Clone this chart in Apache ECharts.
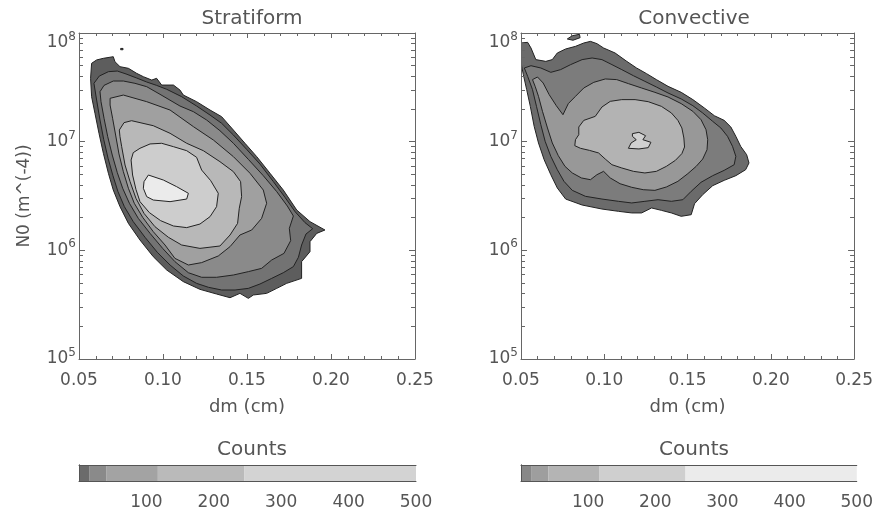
<!DOCTYPE html>
<html>
<head>
<meta charset="utf-8">
<title>N0 vs dm - Stratiform / Convective</title>
<script src="https://cdn.jsdelivr.net/npm/echarts@6/dist/echarts.min.js"></script>
<style>
  html, body { margin: 0; padding: 0; background: #fff; }
  #chart { width: 876px; height: 514px; }
</style>
</head>
<body>
<div id="chart"></div>
<script>
// contour outlines, each point is [dm (cm), log10 N0]
// levels go from the outermost (lowest count) to the innermost
const stratLevel1 = [[0.0569,7.583],[0.0575,7.721],[0.0605,7.752],[0.0645,7.767],[0.0704,7.782],[0.0714,7.736],[0.0744,7.690],[0.0794,7.675],[0.0843,7.629],[0.0883,7.598],[0.0933,7.567],[0.0962,7.583],[0.0992,7.521],[0.1062,7.521],[0.1101,7.475],[0.1121,7.429],[0.1200,7.368],[0.1280,7.291],[0.1349,7.230],[0.1419,7.107],[0.1488,6.985],[0.1558,6.862],[0.1637,6.709],[0.1716,6.555],[0.1796,6.371],[0.1875,6.264],[0.1964,6.187],[0.1915,6.156],[0.1875,6.080],[0.1875,5.988],[0.1825,5.896],[0.1825,5.742],[0.1736,5.696],[0.1677,5.650],[0.1617,5.604],[0.1538,5.589],[0.1508,5.558],[0.1458,5.604],[0.1399,5.564],[0.1319,5.598],[0.1220,5.641],[0.1121,5.712],[0.1022,5.819],[0.0942,5.942],[0.0863,6.095],[0.0794,6.248],[0.0744,6.402],[0.0704,6.555],[0.0675,6.709],[0.0645,6.893],[0.0619,7.077],[0.0595,7.261],[0.0575,7.414]]
const stratSpeck = [[0.0748,7.858],[0.0762,7.858],[0.0762,7.846],[0.0748,7.846]]
const stratLevel2 = [[0.0589,7.537],[0.0621,7.604],[0.0675,7.644],[0.0728,7.650],[0.0780,7.623],[0.0843,7.586],[0.0903,7.549],[0.0962,7.518],[0.1022,7.482],[0.1111,7.414],[0.1200,7.328],[0.1280,7.245],[0.1349,7.169],[0.1419,7.061],[0.1498,6.929],[0.1577,6.794],[0.1657,6.632],[0.1726,6.488],[0.1786,6.356],[0.1845,6.255],[0.1891,6.199],[0.1851,6.150],[0.1825,6.049],[0.1806,5.936],[0.1776,5.850],[0.1716,5.794],[0.1647,5.742],[0.1577,5.690],[0.1508,5.650],[0.1429,5.635],[0.1349,5.635],[0.1270,5.660],[0.1200,5.696],[0.1121,5.764],[0.1042,5.865],[0.0966,5.982],[0.0893,6.120],[0.0823,6.264],[0.0770,6.402],[0.0732,6.540],[0.0702,6.687],[0.0673,6.847],[0.0647,7.021],[0.0625,7.199],[0.0605,7.383]]
const stratLevel3 = [[0.0625,7.460],[0.0649,7.518],[0.0704,7.558],[0.0764,7.558],[0.0833,7.537],[0.0903,7.506],[0.0982,7.436],[0.1101,7.328],[0.1181,7.276],[0.1260,7.199],[0.1339,7.101],[0.1419,6.985],[0.1508,6.837],[0.1597,6.687],[0.1677,6.540],[0.1740,6.408],[0.1776,6.316],[0.1752,6.202],[0.1760,6.089],[0.1720,5.972],[0.1647,5.911],[0.1587,5.834],[0.1508,5.804],[0.1419,5.773],[0.1319,5.752],[0.1230,5.752],[0.1151,5.794],[0.1071,5.896],[0.0998,6.018],[0.0923,6.156],[0.0853,6.294],[0.0800,6.433],[0.0760,6.571],[0.0728,6.715],[0.0698,6.877],[0.0671,7.046],[0.0649,7.215],[0.0631,7.368]]
const stratLevel4 = [[0.0685,7.399],[0.0764,7.429],[0.0903,7.368],[0.1042,7.291],[0.1181,7.138],[0.1300,7.015],[0.1419,6.862],[0.1518,6.709],[0.1597,6.555],[0.1617,6.433],[0.1587,6.294],[0.1528,6.187],[0.1458,6.141],[0.1399,6.034],[0.1329,5.948],[0.1230,5.887],[0.1151,5.865],[0.1071,5.926],[0.1012,6.049],[0.0942,6.172],[0.0879,6.304],[0.0829,6.433],[0.0794,6.571],[0.0764,6.724],[0.0738,6.887],[0.0718,7.061],[0.0700,7.215],[0.0685,7.337]]
const stratLevel5 = [[0.0740,7.107],[0.0768,7.175],[0.0813,7.193],[0.0942,7.147],[0.1042,7.077],[0.1141,6.985],[0.1240,6.917],[0.1339,6.816],[0.1419,6.724],[0.1462,6.632],[0.1468,6.494],[0.1454,6.387],[0.1444,6.248],[0.1399,6.141],[0.1339,6.040],[0.1220,6.018],[0.1111,6.049],[0.1032,6.120],[0.0952,6.218],[0.0887,6.340],[0.0839,6.479],[0.0804,6.632],[0.0774,6.785],[0.0754,6.954],[0.0744,7.046]]
const stratLevel6 = [[0.0810,6.831],[0.0823,6.899],[0.0863,6.939],[0.0923,6.979],[0.0992,6.985],[0.1062,6.954],[0.1141,6.917],[0.1200,6.856],[0.1230,6.739],[0.1284,6.641],[0.1329,6.525],[0.1319,6.402],[0.1280,6.310],[0.1220,6.242],[0.1141,6.209],[0.1062,6.224],[0.0986,6.273],[0.0919,6.347],[0.0863,6.448],[0.0839,6.561],[0.0819,6.693]]
const stratLevel7 = [[0.0887,6.632],[0.0913,6.693],[0.1002,6.647],[0.1081,6.586],[0.1151,6.525],[0.1141,6.472],[0.1042,6.448],[0.0942,6.463],[0.0903,6.494],[0.0883,6.571]]

const convLevel1 = [[0.0500,7.908],[0.0540,7.914],[0.0560,7.862],[0.0589,7.755],[0.0649,7.739],[0.0688,7.755],[0.0718,7.816],[0.0768,7.853],[0.0827,7.877],[0.0877,7.908],[0.0917,7.923],[0.0956,7.902],[0.0996,7.862],[0.1065,7.816],[0.1135,7.739],[0.1194,7.678],[0.1254,7.626],[0.1313,7.571],[0.1383,7.509],[0.1462,7.454],[0.1532,7.387],[0.1601,7.310],[0.1661,7.239],[0.1720,7.196],[0.1760,7.135],[0.1790,7.049],[0.1819,6.957],[0.1855,6.880],[0.1869,6.804],[0.1849,6.742],[0.1790,6.687],[0.1720,6.644],[0.1651,6.595],[0.1591,6.512],[0.1542,6.429],[0.1522,6.328],[0.1462,6.313],[0.1403,6.344],[0.1343,6.368],[0.1284,6.390],[0.1224,6.344],[0.1165,6.344],[0.1085,6.359],[0.0986,6.380],[0.0867,6.417],[0.0768,6.472],[0.0718,6.574],[0.0679,6.696],[0.0639,6.834],[0.0605,6.988],[0.0579,7.141],[0.0556,7.325],[0.0534,7.479],[0.0514,7.617],[0.0500,7.724]]
const convSpot = [[0.0778,7.945],[0.0808,7.975],[0.0851,7.988],[0.0855,7.957],[0.0812,7.933]]
const convLevel2 = [[0.0520,7.678],[0.0560,7.699],[0.0619,7.678],[0.0679,7.638],[0.0738,7.663],[0.0798,7.709],[0.0867,7.755],[0.0927,7.770],[0.0986,7.755],[0.1046,7.709],[0.1105,7.663],[0.1175,7.607],[0.1244,7.555],[0.1313,7.503],[0.1383,7.448],[0.1462,7.393],[0.1532,7.331],[0.1591,7.264],[0.1651,7.187],[0.1700,7.126],[0.1740,7.049],[0.1770,6.957],[0.1790,6.865],[0.1780,6.788],[0.1720,6.736],[0.1651,6.687],[0.1581,6.626],[0.1522,6.543],[0.1472,6.466],[0.1403,6.451],[0.1323,6.466],[0.1244,6.451],[0.1165,6.436],[0.1085,6.451],[0.0986,6.472],[0.0887,6.497],[0.0808,6.552],[0.0758,6.635],[0.0718,6.742],[0.0679,6.865],[0.0645,7.003],[0.0619,7.156],[0.0593,7.325],[0.0569,7.479],[0.0540,7.601]]
const convLevel3 = [[0.0569,7.571],[0.0599,7.595],[0.0633,7.540],[0.0669,7.433],[0.0712,7.331],[0.0752,7.248],[0.0784,7.350],[0.0827,7.417],[0.0877,7.494],[0.0937,7.546],[0.1006,7.577],[0.1075,7.571],[0.1145,7.534],[0.1224,7.494],[0.1304,7.454],[0.1383,7.411],[0.1462,7.350],[0.1532,7.279],[0.1581,7.202],[0.1611,7.110],[0.1621,7.018],[0.1617,6.926],[0.1591,6.840],[0.1552,6.773],[0.1502,6.706],[0.1442,6.635],[0.1373,6.583],[0.1304,6.552],[0.1234,6.558],[0.1165,6.580],[0.1095,6.613],[0.1036,6.666],[0.0996,6.727],[0.0956,6.696],[0.0917,6.650],[0.0863,6.666],[0.0808,6.712],[0.0764,6.773],[0.0724,6.871],[0.0688,6.988],[0.0659,7.126],[0.0629,7.279],[0.0605,7.417],[0.0585,7.509]]
const convLevel4 = [[0.0847,7.135],[0.0877,7.196],[0.0946,7.233],[0.0986,7.319],[0.1036,7.371],[0.1105,7.387],[0.1185,7.387],[0.1264,7.368],[0.1343,7.325],[0.1403,7.264],[0.1442,7.196],[0.1466,7.126],[0.1478,7.034],[0.1482,6.951],[0.1466,6.890],[0.1427,6.828],[0.1373,6.773],[0.1313,6.727],[0.1244,6.712],[0.1175,6.727],[0.1105,6.758],[0.1046,6.788],[0.1006,6.840],[0.0966,6.896],[0.0911,6.920],[0.0857,6.939],[0.0823,6.963],[0.0827,7.018],[0.0847,7.064]]
const convLevel5 = [[0.1169,7.074],[0.1208,7.086],[0.1248,7.055],[0.1232,7.018],[0.1280,6.994],[0.1264,6.945],[0.1208,6.933],[0.1145,6.939],[0.1161,6.988],[0.1192,7.018],[0.1169,7.049]]

// colour bar: count level boundaries
const countLevels = [0, 15, 41, 117, 245, 500]

const stratShapes = [stratLevel1, stratSpeck, stratLevel2, stratLevel3, stratLevel4, stratLevel5, stratLevel6, stratLevel7]
const stratFills = ['#5d5d5d', '#5d5d5d', '#737373', '#8a8a8a', '#a0a0a0', '#b8b8b8', '#cdcdcd', '#ebebeb']
const convShapes = [convLevel1, convSpot, convLevel2, convLevel3, convLevel4, convLevel5]
const convFills = ['#6b6b6b', '#6b6b6b', '#7c7c7c', '#989898', '#b3b3b3', '#d0d0d0']
const stratBar = ['#6b6b6b', '#8a8a8a', '#a3a3a3', '#bababa', '#d3d3d3']
const convBar = ['#888888', '#9e9e9e', '#b4b4b4', '#cfcfcf', '#ebebeb']

const font = 'DejaVu Sans'
const textColor = '#555'
const lineColor = '#666'

function contourSeries (shapes, fills, idx) {
  return {
    type: 'custom',
    xAxisIndex: idx,
    yAxisIndex: idx,
    silent: true,
    z: 2,
    data: shapes.map((pts, i) => [pts[0][0], Math.pow(10, pts[0][1]), i]),
    renderItem: function (params, api) {
      let i = api.value(2)
      let cs = params.coordSys
      return {
        type: 'polygon',
        shape: { points: shapes[i].map(p => api.coord([p[0], Math.pow(10, p[1])])) },
        style: { fill: fills[i], stroke: '#222', lineWidth: 1 },
        clipPath: { type: 'rect', shape: { x: cs.x, y: cs.y, width: cs.width, height: cs.height } }
      }
    }
  }
}

function dmAxis (grid, pos) {
  let main = pos === 'bottom'
  return {
    gridIndex: grid, type: 'value', position: pos, min: 0.05, max: 0.25, interval: 0.05, z: 10,
    name: main ? 'dm (cm)' : '', nameLocation: 'middle', nameGap: 39,
    nameTextStyle: { fontFamily: font, fontSize: 18, color: textColor },
    axisLine: { onZero: false, lineStyle: { color: lineColor } },
    axisTick: { inside: true, length: 5, lineStyle: { color: lineColor } },
    minorTick: { show: true, splitNumber: 5, length: 3, lineStyle: { color: lineColor } },
    splitLine: { show: false },
    axisLabel: { show: main, margin: 13, fontFamily: font, fontSize: 17, color: textColor, formatter: v => v.toFixed(2) }
  }
}

function n0Axis (grid, pos, withName) {
  let main = pos === 'left'
  return {
    gridIndex: grid, type: 'log', logBase: 10, position: pos, min: 1e5, max: 1e8, z: 10,
    name: withName ? 'N0 (m^(-4))' : '', nameLocation: 'middle', nameRotate: 90, nameGap: 46,
    nameTextStyle: { fontFamily: font, fontSize: 17, color: textColor },
    axisLine: { onZero: false, lineStyle: { color: lineColor } },
    axisTick: { inside: true, length: 6, lineStyle: { color: lineColor } },
    minorTick: { show: true, splitNumber: 9, length: 4, lineStyle: { color: lineColor } },
    splitLine: { show: false },
    axisLabel: {
      show: main, margin: 3,
      formatter: function (v) {
        let e = Math.round(Math.log10(v))
        return (e >= 8 ? '{gap| }\n' : '') + '{b|10}{s|' + e + '}'
      },
      rich: {
        b: { fontFamily: font, fontSize: 17, lineHeight: 17, color: textColor },
        s: { fontFamily: font, fontSize: 12, lineHeight: 12, padding: [0, 0, 12, 0], color: textColor },
        gap: { fontSize: 10, lineHeight: 20 }
      }
    }
  }
}

function barXAxis (grid, pos) {
  let main = pos === 'bottom'
  return {
    gridIndex: grid, type: 'value', position: pos, min: 0, max: 500, interval: 100, z: 10,
    axisLine: { show: true, onZero: false, lineStyle: { color: '#555' } },
    axisTick: { show: false }, splitLine: { show: false },
    axisLabel: { show: main, margin: 13, fontFamily: font, fontSize: 17, color: textColor, formatter: v => v === 0 ? '' : String(v) }
  }
}

function barYAxis (grid, pos) {
  return {
    gridIndex: grid, type: 'category', position: pos, data: [''], z: 10,
    axisLine: { show: true, lineStyle: { color: '#555' } },
    axisTick: { show: false }, axisLabel: { show: false }, splitLine: { show: false }
  }
}

function barSeries (colors, idx) {
  return colors.map((c, i) => ({
    type: 'bar', xAxisIndex: idx, yAxisIndex: idx, stack: 'bar' + idx, silent: true,
    barWidth: '100%', data: [countLevels[i + 1] - countLevels[i]], itemStyle: { color: c }
  }))
}

const titleStyle = { fontFamily: font, fontSize: 20, fontWeight: 'normal', color: textColor }

let option = {
  animation: false,
  backgroundColor: '#fff',
  title: [
    { text: 'Stratiform', left: 247, top: 4, textAlign: 'center', textStyle: titleStyle },
    { text: 'Convective', left: 689, top: 4, textAlign: 'center', textStyle: titleStyle },
    { text: 'Counts', left: 247, top: 435, textAlign: 'center', textStyle: titleStyle },
    { text: 'Counts', left: 689, top: 435, textAlign: 'center', textStyle: titleStyle }
  ],
  grid: [
    { left: 79, top: 33, width: 336, height: 326 },
    { left: 521, top: 33, width: 336, height: 326 },
    { left: 79, top: 465, width: 337, height: 16 },
    { left: 521, top: 465, width: 336, height: 16 }
  ],
  xAxis: [
    dmAxis(0, 'bottom'), dmAxis(0, 'top'),
    dmAxis(1, 'bottom'), dmAxis(1, 'top'),
    barXAxis(2, 'bottom'), barXAxis(2, 'top'),
    barXAxis(3, 'bottom'), barXAxis(3, 'top')
  ],
  yAxis: [
    n0Axis(0, 'left', true), n0Axis(0, 'right', false),
    n0Axis(1, 'left', false), n0Axis(1, 'right', false),
    barYAxis(2, 'left'), barYAxis(2, 'right'),
    barYAxis(3, 'left'), barYAxis(3, 'right')
  ],
  series: [
    contourSeries(stratShapes, stratFills, 0),
    contourSeries(convShapes, convFills, 2)
  ].concat(barSeries(stratBar, 4), barSeries(convBar, 6))
}

let dom = echarts.init(document.getElementById('chart'))
dom.setOption(option)
window.addEventListener('resize', dom.resize)
</script>
</body>
</html>
